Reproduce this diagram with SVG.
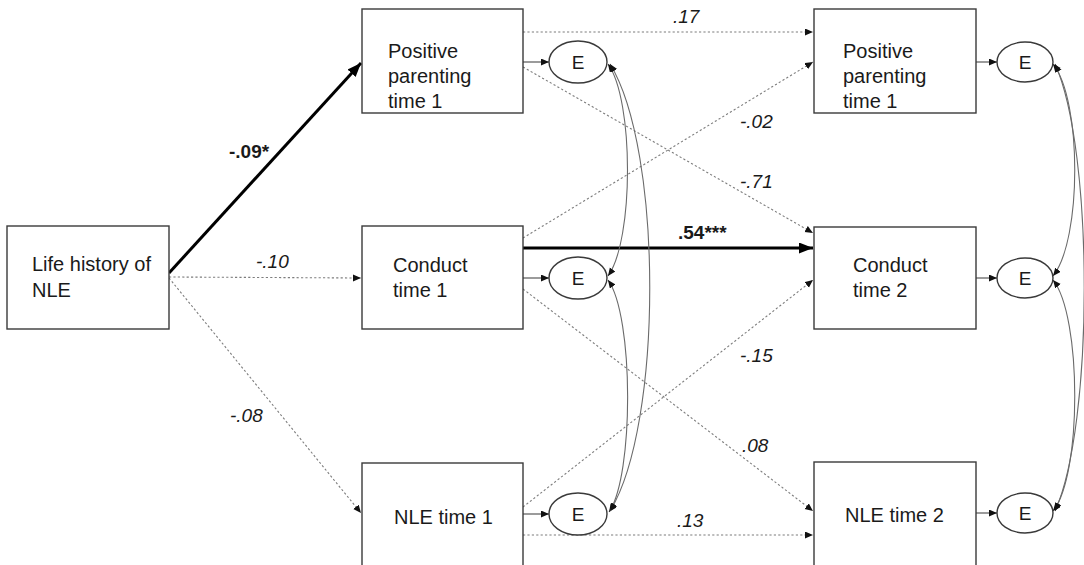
<svg xmlns="http://www.w3.org/2000/svg" width="1084" height="565" viewBox="0 0 1084 565">
<style>
.box{fill:#fff;stroke:#3a3a3a;stroke-width:1.4}
.ell{fill:#fff;stroke:#3a3a3a;stroke-width:1.4}
.t{font-family:"Liberation Sans",Arial,sans-serif;font-size:20px;fill:#1a1a1a}
.e{font-family:"Liberation Sans",Arial,sans-serif;font-size:19px;fill:#1a1a1a;text-anchor:middle}
.lb{font-family:"Liberation Sans",Arial,sans-serif;font-size:19px;fill:#1a1a1a}
.it{font-style:italic}
.bd{font-weight:bold}
.dot{fill:none;stroke:#7d7d7d;stroke-width:1.1;stroke-dasharray:2.2 2.2}
.thick{fill:none;stroke:#000;stroke-width:3}
.sol{fill:none;stroke:#4a4a4a;stroke-width:1.1}
.cur{fill:none;stroke:#6a6a6a;stroke-width:1.1}
</style>
<defs>
<marker id="as" markerUnits="userSpaceOnUse" markerWidth="9" markerHeight="8" refX="8" refY="3.5" orient="auto"><path d="M0,0 L8,3.5 L0,7 z" fill="#111"/></marker>
<marker id="al" markerUnits="userSpaceOnUse" markerWidth="15" markerHeight="12" refX="14" refY="5.5" orient="auto"><path d="M0,0 L14,5.5 L0,11 z" fill="#000"/></marker>
<marker id="ac" markerUnits="userSpaceOnUse" markerWidth="9" markerHeight="8" refX="8" refY="3.5" orient="auto-start-reverse"><path d="M0,0 L8,3.5 L0,7 z" fill="#111"/></marker>
</defs>
<rect width="1084" height="565" fill="#fff"/>
<g id="connectors">
<path class="thick" d="M169,273 L361,63" marker-end="url(#al)"/>
<path class="dot" d="M169,277 L361,278" marker-end="url(#as)"/>
<path class="dot" d="M169,278 L361,513" marker-end="url(#as)"/>
<path class="dot" d="M523,32 L813,32" marker-end="url(#as)"/>
<path class="dot" d="M523,67 L813,233" marker-end="url(#as)"/>
<path class="dot" d="M523,238 L813,62" marker-end="url(#as)"/>
<path class="thick" d="M523,248 L813,248" marker-end="url(#al)"/>
<path class="dot" d="M523,289 L813,511" marker-end="url(#as)"/>
<path class="dot" d="M523,507 L813,280" marker-end="url(#as)"/>
<path class="dot" d="M523,535 L813,535" marker-end="url(#as)"/>
<path class="sol" d="M523,62 L549,62" marker-end="url(#as)"/>
<path class="sol" d="M523,278 L549,278" marker-end="url(#as)"/>
<path class="sol" d="M523,514 L549,514" marker-end="url(#as)"/>
<path class="sol" d="M976,62 L997,62" marker-end="url(#as)"/>
<path class="sol" d="M976,278 L997,278" marker-end="url(#as)"/>
<path class="sol" d="M976,513 L997,513" marker-end="url(#as)"/>
<path class="cur" d="M608,64 C634,100 634,240 608,276" marker-start="url(#ac)" marker-end="url(#ac)"/>
<path class="cur" d="M608,280 C634,316 634,476 609,512" marker-start="url(#ac)" marker-end="url(#ac)"/>
<path class="cur" d="M610,64 C663,150 663,425 610,511" marker-start="url(#ac)" marker-end="url(#ac)"/>
<path class="cur" d="M1053,64 C1082,100 1082,240 1053,276" marker-start="url(#ac)" marker-end="url(#ac)"/>
<path class="cur" d="M1053,280 C1082,316 1082,476 1053,511" marker-start="url(#ac)" marker-end="url(#ac)"/>
<path class="cur" d="M1055,64 C1094,150 1094,425 1055,511" marker-start="url(#ac)" marker-end="url(#ac)"/>
<text class="lb bd" x="229" y="158">-.09*</text>
<text class="lb it" x="256" y="268">-.10</text>
<text class="lb it" x="230" y="422">-.08</text>
<text class="lb it" x="673" y="23">.17</text>
<text class="lb it" x="740" y="128">-.02</text>
<text class="lb it" x="740" y="188">-.71</text>
<text class="lb bd" x="678" y="239">.54***</text>
<text class="lb it" x="740" y="362">-.15</text>
<text class="lb it" x="742" y="452">.08</text>
<text class="lb it" x="677" y="527">.13</text>
</g>
<g id="life_history">
<rect class="box" x="7" y="226" width="162" height="103"/>
<text class="t" x="32" y="271">Life history of</text>
<text class="t" x="32" y="297">NLE</text>
</g>
<g id="pp_t1">
<rect class="box" x="362" y="9" width="161" height="104"/>
<text class="t" x="388" y="58">Positive</text>
<text class="t" x="388" y="83">parenting</text>
<text class="t" x="388" y="108">time 1</text>
</g>
<g id="conduct_t1">
<rect class="box" x="362" y="226" width="161" height="103"/>
<text class="t" x="393" y="272">Conduct</text>
<text class="t" x="393" y="297">time 1</text>
</g>
<g id="nle_t1">
<rect class="box" x="362" y="463" width="161" height="110"/>
<text class="t" x="394" y="524">NLE time 1</text>
</g>
<g id="pp_t2">
<rect class="box" x="814" y="9" width="162" height="104"/>
<text class="t" x="843" y="58">Positive</text>
<text class="t" x="843" y="83">parenting</text>
<text class="t" x="843" y="108">time 1</text>
</g>
<g id="conduct_t2">
<rect class="box" x="814" y="227" width="162" height="102"/>
<text class="t" x="853" y="272">Conduct</text>
<text class="t" x="853" y="297">time 2</text>
</g>
<g id="nle_t2">
<rect class="box" x="814" y="462" width="162" height="110"/>
<text class="t" x="845" y="522">NLE time 2</text>
</g>
<g id="e_pp_t1"><ellipse class="ell" cx="578" cy="62" rx="29" ry="21"/><text class="e" x="578" y="69">E</text></g>
<g id="e_conduct_t1"><ellipse class="ell" cx="578" cy="278" rx="29" ry="21"/><text class="e" x="578" y="285">E</text></g>
<g id="e_nle_t1"><ellipse class="ell" cx="578" cy="514" rx="29" ry="21"/><text class="e" x="578" y="521">E</text></g>
<g id="e_pp_t2"><ellipse class="ell" cx="1025" cy="62" rx="28" ry="20"/><text class="e" x="1025" y="69">E</text></g>
<g id="e_conduct_t2"><ellipse class="ell" cx="1025" cy="278" rx="28" ry="20"/><text class="e" x="1025" y="285">E</text></g>
<g id="e_nle_t2"><ellipse class="ell" cx="1025" cy="513" rx="28" ry="20"/><text class="e" x="1025" y="520">E</text></g>
</svg>
